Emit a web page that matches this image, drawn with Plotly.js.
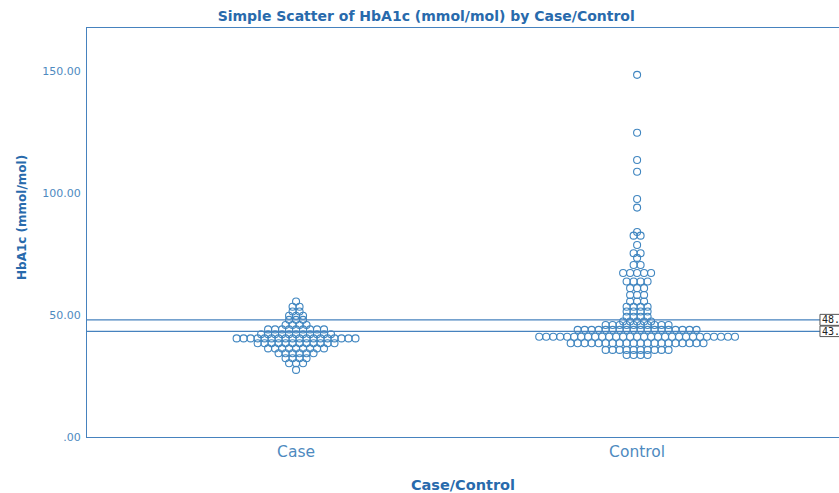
<!DOCTYPE html>
<html>
<head>
<meta charset="utf-8">
<script src="https://cdn.plot.ly/plotly-3.0.1.min.js"></script>
<style>html,body{margin:0;padding:0;background:#fff;}#chart{width:839px;height:493px;}</style>
</head>
<body>
<div id="chart"></div>
<script>
// Categories
const categories = ["Case", "Control"];
// HbA1c levels (mmol/mol) and number of subjects at each level
const caseLevels = [55.5, 53.4, 51.4, 49.7, 48.0, 45.9, 44.1, 42.1, 40.4, 38.4, 36.3, 34.3, 32.3, 30.2, 27.5];
const caseCounts = [1, 2, 2, 3, 3, 4, 9, 11, 18, 12, 9, 6, 4, 3, 1];
const controlLevels = [148.4, 124.7, 113.5, 108.7, 97.5, 94.0, 84.0, 82.5, 78.7, 75.3, 73.4, 70.5, 67.2, 63.7, 61.0, 58.2, 55.5, 53.4, 51.4, 49.3, 47.3, 45.9, 43.9, 41.1, 38.4, 35.7, 33.6];
const controlCounts = [1, 1, 1, 1, 1, 1, 1, 2, 1, 2, 1, 2, 5, 4, 3, 3, 3, 4, 4, 4, 5, 10, 18, 29, 20, 10, 4];
// Reference lines and their (truncated) labels
const refValues = [48.0, 43.3];
const refLabels = ["48.", "43."];
const yTickVals = [0, 50, 100, 150];
const yTickText = [".00", "50.00", "100.00", "150.00"];

const dx = 0.0205; // horizontal spacing of stacked dots (category units)
function stack(center, levels, counts) {
  const xs = [], ys = [];
  levels.forEach((lv, i) => {
    const n = counts[i];
    for (let k = 0; k < n; k++) {
      xs.push(center + (k - (n - 1) / 2) * dx);
      ys.push(lv);
    }
  });
  return {xs, ys};
}
const a = stack(0, caseLevels, caseCounts);
const b = stack(1, controlLevels, controlCounts);

const markerStyle = {symbol: "circle-open", size: 7, color: "rgb(64,134,192)", line: {width: 1.1}};
const data = [
  {type: "scatter", mode: "markers", x: a.xs, y: a.ys, marker: markerStyle, hoverinfo: "y", showlegend: false, cliponaxis: false},
  {type: "scatter", mode: "markers", x: b.xs, y: b.ys, marker: markerStyle, hoverinfo: "y", showlegend: false, cliponaxis: false}
];

const axisBlue = "rgb(78,138,192)";
const lineBlue = "rgb(70,130,190)";
const titleBlue = "rgb(40,106,172)";

const labelX = 0.9747;       // paper position of the label boxes
const boxHalf = [2.25, 2.15]; // half height of label boxes (data units)
const shapes = refValues.map(v => ({type: "line", xref: "paper", x0: 0, x1: 1, yref: "y", y0: v, y1: v, line: {color: lineBlue, width: 1.4}}));
refValues.forEach((v, i) => {
  shapes.push({type: "rect", xref: "paper", x0: labelX, x1: 1.05, yref: "y", y0: v - boxHalf[i], y1: v + boxHalf[i],
    fillcolor: "#fff", line: {color: "#555", width: 1}, layer: "above"});
});
const annotations = refValues.map((v, i) => ({
  xref: "paper", x: labelX + 0.002, xanchor: "left", yref: "y", y: v, yanchor: "middle",
  text: refLabels[i], showarrow: false, borderpad: 0,
  font: {family: "DejaVu Sans Mono", size: 10, color: "#222"}
}));
annotations.push({
  xref: "paper", x: -0.0864, xanchor: "center", yref: "paper", y: 0.5355, yanchor: "middle",
  text: "<b>HbA1c (mmol/mol)</b>", textangle: -90, showarrow: false,
  font: {family: "DejaVu Sans", size: 12, color: titleBlue}
});

const layout = {
  width: 839, height: 493,
  margin: {l: 87, r: 0, t: 28, b: 56},
  paper_bgcolor: "#fff", plot_bgcolor: "#fff",
  title: {text: "<b>Simple Scatter of HbA1c (mmol/mol) by Case/Control</b>", x: 0.508, xref: "container", xanchor: "center", y: 0.967, yref: "container", yanchor: "middle",
    font: {family: "DejaVu Sans", size: 14, color: titleBlue}},
  xaxis: {range: [-0.613, 1.592], tickvals: [0, 1], ticktext: categories, showgrid: false, zeroline: false,
    showline: true, linecolor: lineBlue, linewidth: 1, mirror: true, ticks: "",
    tickfont: {family: "DejaVu Sans", size: 15.5, color: axisBlue},
    title: {text: "<b>Case/Control</b>", font: {family: "DejaVu Sans", size: 14.5, color: titleBlue}, standoff: 20}},
  yaxis: {range: [0, 167.6], tickvals: yTickVals, ticktext: yTickText, showgrid: false, zeroline: false,
    showline: true, linecolor: lineBlue, linewidth: 1, ticks: "", ticklabelstandoff: 3,
    tickfont: {family: "DejaVu Sans", size: 11, color: axisBlue}},
  shapes: shapes,
  annotations: annotations
};

Plotly.newPlot("chart", data, layout, {displayModeBar: false, staticPlot: true});
</script>
</body>
</html>
